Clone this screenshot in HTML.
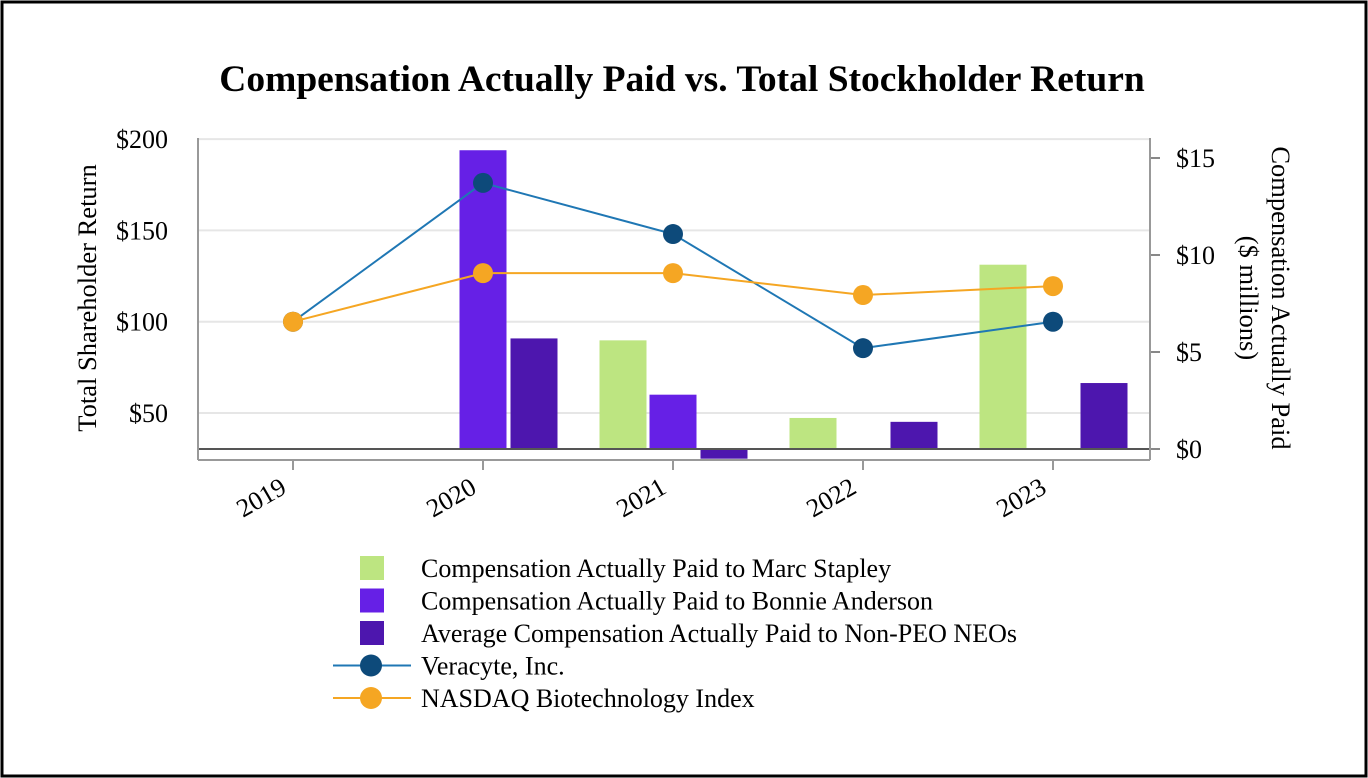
<!DOCTYPE html>
<html><head><meta charset="utf-8"><style>
body{margin:0;background:#fff;}
svg{display:block;font-family:"Liberation Serif",serif;}
</style></head><body>
<svg id="c" width="1368" height="778" xmlns="http://www.w3.org/2000/svg">
<rect x="2" y="2" width="1364" height="774" fill="#fff" stroke="#000" stroke-width="3"/>
<text x="682" y="91" text-anchor="middle" font-size="37.5" font-weight="bold">Compensation Actually Paid vs. Total Stockholder Return</text>
<g id="plot"></g>
<text transform="translate(96,298) rotate(-90)" text-anchor="middle" font-size="26.5">Total Shareholder Return</text>
<text transform="translate(1272,298) rotate(90)" text-anchor="middle" font-size="26.5"><tspan x="0" dy="0">Compensation Actually Paid</tspan><tspan x="0" dy="32">($ millions)</tspan></text>
<g id="legend"></g>
</svg>
<script>
const years=["2019","2020","2021","2022","2023"];
const stapley=[null,null,5.6,1.6,9.5];
const bonnie=[null,15.4,2.8,null,null];
const nonPeo=[null,5.7,-0.5,1.4,3.4];
const veracyte=[100,176,148,85.5,100];
const nasdaq=[100,126.6,126.6,114.6,119.5];
const leftTicks=[50,100,150,200];
const rightTicks=[0,5,10,15];
const NS="http://www.w3.org/2000/svg";
const g=document.getElementById('plot');
function mk(t,a,p){const e=document.createElementNS(NS,t);for(const k in a)e.setAttribute(k,a[k]);(p||g).appendChild(e);return e;}
const xL=198,xR=1150;
function xs(i){return 293+i*190;}
function yL(v){return 413-(v-50)*91.3/50;}
function yR(v){return 449-v*19.4;}
leftTicks.forEach(v=>{
 const l=mk('line',{x1:xL,x2:xR,y1:yL(v),y2:yL(v),stroke:'#e6e6e6','stroke-width':2});
 
 
 const t=mk('text',{x:168,y:yL(v)+9,'text-anchor':'end','font-size':26});
 t.textContent='$'+v;
 
 
});
rightTicks.forEach(v=>{
 mk('line',{x1:xR,x2:xR+10,y1:yR(v),y2:yR(v),stroke:'#888','stroke-width':2});
 const t=mk('text',{x:1176,y:yR(v)+9,'font-size':26});
 t.textContent='$'+v;
 
 
});
const series=[[stapley,'#bde581',-50,'bar-stapley'],[bonnie,'#6620e6',0,'bar-bonnie'],[nonPeo,'#4d16ae',51,'bar-non-peo']];
series.forEach(([arr,col,off,nm])=>{
 arr.forEach((v,i)=>{
  if(v===null)return;
  const y0=yR(0),y1=yR(v);
  const r=mk('rect',{x:xs(i)+off-23.5,y:Math.min(y0,y1),width:47,height:Math.abs(y1-y0),fill:col});
  
  
 });
});
mk('line',{x1:xL,x2:xR,y1:yR(0),y2:yR(0),stroke:'#555','stroke-width':2});
mk('line',{x1:xL,x2:xL,y1:138,y2:460,stroke:'#999','stroke-width':2});
mk('line',{x1:xR,x2:xR,y1:138,y2:460,stroke:'#999','stroke-width':2});
mk('line',{x1:xL,x2:xR,y1:460,y2:460,stroke:'#999','stroke-width':2});
years.forEach((y,i)=>{
 mk('line',{x1:xs(i),x2:xs(i),y1:460,y2:470,stroke:'#999','stroke-width':2});
 const t=mk('text',{transform:`translate(${xs(i)-5},${492}) rotate(-30)`,'text-anchor':'end','font-size':26});
 t.textContent=y;
 
 
});
[[veracyte,'#1f77b4','#0d4a7a','line-veracyte'],[nasdaq,'#f5a623','#f5a623','line-nasdaq']].forEach(([arr,lc,mc,nm])=>{
 const p=mk('polyline',{points:arr.map((v,i)=>xs(i)+','+yL(v)).join(' '),fill:'none',stroke:lc,'stroke-width':2});
 
 
 arr.forEach((v,i)=>{
  const c=mk('circle',{cx:xs(i),cy:yL(v),r:10,fill:mc});
  
  
 });
});
const lg=document.getElementById('legend');
const items=[['bar','#bde581','Compensation Actually Paid to Marc Stapley'],['bar','#6620e6','Compensation Actually Paid to Bonnie Anderson'],['bar','#4d16ae','Average Compensation Actually Paid to Non-PEO NEOs'],['line','#1f77b4','Veracyte, Inc.','#0d4a7a'],['line','#f5a623','NASDAQ Biotechnology Index','#f5a623']];
items.forEach((it,i)=>{
 const cy=568+i*32.5;
 const e=mk('g',{},lg);
 
 
 if(it[0]==='bar')mk('rect',{x:360,y:cy-12,width:24,height:24,fill:it[1]},e);
 else{mk('line',{x1:333,x2:411,y1:cy,y2:cy,stroke:it[1],'stroke-width':2},e);mk('circle',{cx:371,cy:cy,r:11,fill:it[3]},e);}
 const t=mk('text',{x:421,y:cy+9,'font-size':26},e);t.textContent=it[2];
});
</script>
</body></html>
